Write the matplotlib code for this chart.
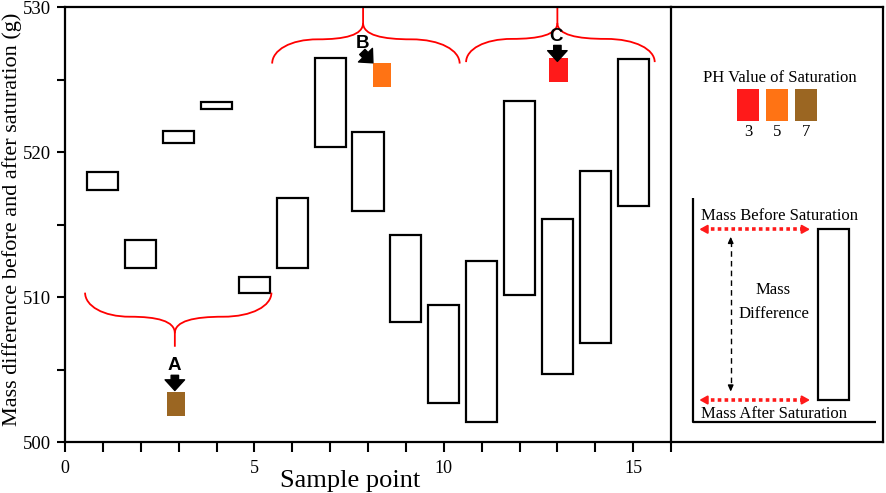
import numpy as np
import matplotlib
matplotlib.use('Agg')
import matplotlib.pyplot as plt
from matplotlib.patches import Rectangle, PathPatch
from matplotlib.path import Path

# ---------------- data ----------------
sample_points = [1, 2, 3, 4, 5, 6, 7, 8, 9, 10, 11, 12, 13, 14, 15]
mass_before = [518.6, 513.9, 521.45, 523.45, 511.35, 516.8, 526.45, 521.35,
               514.3, 509.45, 512.45, 523.5, 515.35, 518.7, 526.4]
mass_after = [517.4, 512.0, 520.6, 522.95, 510.25, 512.0, 520.35, 515.9,
              508.25, 502.7, 501.35, 510.15, 504.7, 506.85, 516.3]

group_labels = ['A', 'B', 'C']
group_ph = [7, 5, 3]
group_start = [0.53, 5.47, 10.59]
group_end = [5.45, 10.42, 15.57]
group_tip = [2.9, 7.87, 13.0]
brace_end_y = [510.3, 526.1, 526.2]
brace_mid_y = [508.64, 527.77, 527.8]
brace_stem_y = [507.5, 528.9, 528.9]
brace_tip_y = [506.57, 530.0, 530.0]
marker_x = [2.93, 8.37, 13.02]
marker_y = [502.6, 525.33, 525.65]
label_x = [2.88, 7.85, 12.97]
label_y = [505.3, 527.5, 527.95]
arrow_from = [(2.9, 504.6), (7.85, 526.9), (13.0, 527.35)]
arrow_to = [(2.9, 503.55), (8.13, 526.15), (13.0, 526.25)]

ph_values = [3, 5, 7]
ph_colors = {3: '#ff1a1a', 5: '#ff7314', 7: '#9b6622'}

x_major = [0, 5, 10, 15]
y_major = [500, 510, 520, 530]

SERIF = 'Liberation Serif'
SANS = 'Liberation Sans'

W, H = 886, 493
fig = plt.figure(figsize=(W / 100, H / 100), dpi=100)

L, R, T, B = 65, 671, 7, 442
ax = fig.add_axes([L / W, 1 - B / H, (R - L) / W, (B - T) / H])
ax.set_xlim(0, 16)
ax.set_ylim(500, 530)

ax.bar(sample_points, np.array(mass_before) - np.array(mass_after),
       bottom=mass_after, width=0.82, fill=False, edgecolor='black', lw=1.6)

for s in ax.spines.values():
    s.set_linewidth(1.6)

ax.set_xticks(x_major)
ax.set_xticks(range(0, 17), minor=True)
ax.set_yticks(y_major)
ax.set_yticks([505, 515, 525], minor=True)
ax.tick_params(axis='x', which='both', direction='out', length=7, width=1.5,
               labelsize=13, pad=6)
ax.tick_params(axis='y', which='both', direction='out', length=6, width=1.5,
               labelsize=13.5, pad=4)
for lab in ax.get_xticklabels() + ax.get_yticklabels():
    lab.set_fontfamily(SERIF)


def draw_brace(x0, x1, xm, y_end, y_mid, y_stem, y_tip):
    hl = xm - x0
    hr = x1 - xm
    ye = y_end + 0.55 * (y_mid - y_end)
    ys = y_mid + 0.25 * (y_stem - y_mid)
    verts = [
        (x0, y_end), (x0, ye), (x0 + 0.2 * hl, y_mid), (x0 + 0.5 * hl, y_mid),
        (x0 + 0.8 * hl, y_mid), (xm, ys), (xm, y_stem),
        (xm, y_tip),
    ]
    codes = [Path.MOVETO, Path.CURVE4, Path.CURVE4, Path.CURVE4,
             Path.CURVE4, Path.CURVE4, Path.CURVE4, Path.LINETO]
    verts2 = [
        (xm, y_stem), (xm, ys), (x1 - 0.8 * hr, y_mid), (x1 - 0.5 * hr, y_mid),
        (x1 - 0.2 * hr, y_mid), (x1, ye), (x1, y_end),
    ]
    codes2 = [Path.MOVETO, Path.CURVE4, Path.CURVE4, Path.CURVE4,
              Path.CURVE4, Path.CURVE4, Path.CURVE4]
    for v, c in ((verts, codes), (verts2, codes2)):
        ax.add_patch(PathPatch(Path(v, c), fill=False, edgecolor='#ff0000',
                               lw=1.3, clip_on=False))


for i, g in enumerate(group_labels):
    draw_brace(group_start[i], group_end[i], group_tip[i], brace_end_y[i],
               brace_mid_y[i], brace_stem_y[i], brace_tip_y[i])
    c = ph_colors[group_ph[i]]
    ax.add_patch(Rectangle((marker_x[i] - 0.25, marker_y[i] - 0.82), 0.5, 1.64,
                           facecolor=c, edgecolor='none'))
    ax.text(label_x[i], label_y[i], g, fontfamily=SANS, fontweight='bold',
            fontsize=13.5, ha='center', va='center')
    ax.annotate('', xy=arrow_to[i], xytext=arrow_from[i],
                arrowprops=dict(arrowstyle='simple,head_length=0.55,head_width=1.0,tail_width=0.38',
                                color='black', mutation_scale=14, shrinkA=0, shrinkB=0))

fig.text(12 / W, 1 - 219 / H, 'Mass difference before and after saturation (g)',
         rotation=90, ha='center', va='center', fontsize=16, fontfamily=SERIF)
fig.text(350 / W, 1 - 487 / H, 'Sample point', ha='center', va='baseline',
         fontsize=19, fontfamily=SERIF)

# ---------------- right legend panel ----------------
PR = 883
ax2 = fig.add_axes([R / W, 1 - B / H, (PR - R) / W, (B - T) / H])
ax2.set_xlim(0, PR - R)
ax2.set_ylim(B - T, 0)
ax2.set_xticks([])
ax2.set_yticks([])
ax2.patch.set_alpha(0)
ax2.spines['left'].set_visible(False)
for k in ('top', 'right', 'bottom'):
    ax2.spines[k].set_linewidth(1.6)

ax2.text(108.5, 71, 'PH Value of Saturation', ha='center', va='center',
         fontsize=12, fontfamily=SERIF)
sw_x = [65.7, 94.7, 123.7]
for xs, ph in zip(sw_x, ph_values):
    ax2.add_patch(Rectangle((xs, 82.3), 22.6, 31.4, facecolor=ph_colors[ph],
                            edgecolor='none'))
    ax2.text(xs + 11.3, 125, str(ph), ha='center', va='center', fontsize=12,
             fontfamily=SERIF)

ax2.plot([22.3, 22.3, 205], [191.3, 414.7, 414.7], color='black', lw=1.6,
         solid_capstyle='butt')
ax2.add_patch(Rectangle((146.7, 222), 31.3, 171, fill=False, edgecolor='black',
                        lw=1.6))
ax2.text(29.7, 209, 'Mass Before Saturation', ha='left', va='center',
         fontsize=12, fontfamily=SERIF)
ax2.text(29.7, 407, 'Mass After Saturation', ha='left', va='center',
         fontsize=12, fontfamily=SERIF)
ax2.text(102.5, 283, 'Mass', ha='center', va='center', fontsize=12,
         fontfamily=SERIF)
ax2.text(103, 306.5, 'Difference', ha='center', va='center', fontsize=12,
         fontfamily=SERIF)

for yy in (222.3, 393):
    ax2.plot([33, 134], [yy, yy], color='#ff1a1a', lw=2.6,
             linestyle=(0, (1.0, 0.9)), solid_capstyle='butt')
    for xa, xb in ((34, 28.3), (133, 139)):
        ax2.annotate('', xy=(xb, yy), xytext=(xa, yy),
                     arrowprops=dict(arrowstyle='-|>,head_length=0.45,head_width=0.25',
                                     color='#ff1a1a', lw=1.5, mutation_scale=10,
                                     shrinkA=0, shrinkB=0))

ax2.plot([59.7, 59.7], [234, 380], color='black', lw=1.0, linestyle=(0, (4, 3)))
for ya, yb in ((234.5, 229.7), (380, 384.7)):
    ax2.annotate('', xy=(59.7, yb), xytext=(59.7, ya),
                 arrowprops=dict(arrowstyle='-|>,head_length=0.45,head_width=0.2',
                                 color='black', lw=1.0, mutation_scale=8,
                                 shrinkA=0, shrinkB=0))

fig.savefig('out.png', dpi=100)
